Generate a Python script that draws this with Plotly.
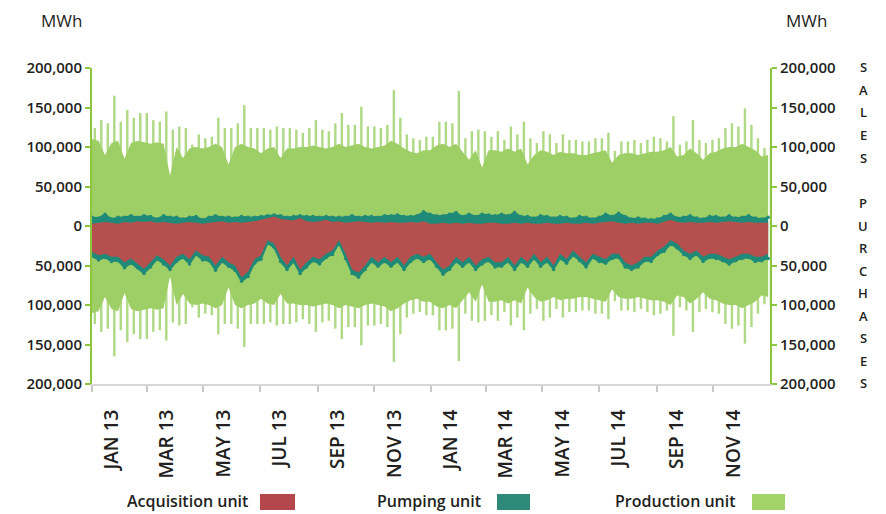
import pandas as pd
import plotly.graph_objects as go

# ---------------- data (thousand MWh, weekly, 2013-2014) ----------------
week_start = pd.date_range("2013-01-01", periods=105, freq="7D")

# production unit: peak hourly value in the week (spike tops) and the dense level
prod_peak = [124, 134, 130, 165, 132, 147, 137, 143, 143, 134,
             132, 145, 122, 126, 124, 103, 116, 111, 113, 137,
             124, 124, 130, 153, 124, 124,
             124, 122, 126, 124, 124, 122, 118, 124, 134, 122,
             120, 130, 143, 128, 128, 151, 126, 126, 124, 128,
             172, 137, 116, 111, 109, 113,
             113, 132, 132, 130, 171, 111, 120, 122, 120, 113,
             120, 109, 126, 116, 132, 111, 105, 120, 116, 105,
             116, 109, 109, 107, 107, 111,
             111, 118, 95, 107, 107, 109, 105, 109, 113, 111,
             107, 139, 103, 107, 134, 109, 105, 109, 111, 124,
             130, 126, 149, 128, 111, 99, 100]
prod_level = [110, 108, 90, 105, 108, 85, 105, 108, 106, 104,
              106, 104, 64, 100, 86, 98, 100, 98, 100, 104,
              100, 78, 100, 104, 100, 98,
              92, 98, 100, 86, 98, 98, 100, 100, 102, 100,
              98, 100, 104, 100, 102, 104, 100, 98, 100, 102,
              108, 104, 98, 94, 92, 96,
              96, 102, 104, 100, 104, 94, 84, 96, 74, 96,
              96, 94, 98, 94, 98, 78, 90, 96, 94, 90,
              94, 92, 92, 90, 90, 92,
              94, 96, 80, 90, 92, 92, 90, 92, 94, 94,
              96, 100, 88, 90, 98, 92, 84, 92, 94, 98,
              100, 100, 104, 100, 96, 88, 90]

# acquisition unit (sales side / purchases side)
acq_sales = [3, 4, 5, 4, 3, 5, 4, 6, 5, 6, 4, 5, 4, 3, 4, 5, 4, 3, 4, 5, 6, 4, 5, 4, 5, 6,
             8, 10, 12, 9, 8, 7, 10, 6, 5, 6, 8, 5, 6, 4, 5, 6, 5, 4, 5, 4, 5, 4, 4, 5, 4, 6,
             3, 3, 4, 3, 4, 3, 4, 3, 3, 4, 4, 3, 3, 4, 3, 4, 3, 3, 4, 3, 3, 4, 3, 3, 4, 3,
             4, 5, 6, 4, 3, 4, 3, 4, 4, 3, 6, 8, 5, 4, 5, 4, 4, 5, 4, 5, 6, 5, 4, 5, 4, 4, 4]
acq_purch = [33, 37, 35, 39, 39, 46, 41, 48, 54, 46, 37, 42, 50, 39, 35, 42, 31, 37, 39, 50,
             39, 46, 50, 65, 58, 42,
             37, 18, 22, 39, 50, 39, 55, 46, 39, 42, 35, 31, 18, 35, 55, 59, 50, 39, 46, 39,
             46, 39, 50, 39, 35, 39,
             35, 46, 55, 50, 39, 46, 39, 50, 42, 39, 46, 46, 39, 50, 39, 46, 35, 46, 39, 50,
             35, 42, 31, 39, 46, 35,
             39, 42, 35, 35, 46, 50, 46, 39, 39, 31, 26, 18, 22, 31, 35, 31, 39, 35, 35, 39,
             42, 39, 35, 35, 39, 39, 35]

# pumping unit (stacked beyond the acquisition unit)
pump_sales = [8, 6, 10, 5, 8, 6, 9, 5, 8, 6, 5, 8, 7, 8, 5, 6, 8, 5, 7, 8, 5, 7, 5, 8, 6, 5,
              4, 3, 2, 4, 3, 5, 3, 6, 7, 5, 4, 6, 5, 7, 8, 5, 7, 8, 6, 9, 8, 10, 8, 7, 9, 12,
              12, 10, 9, 12, 13, 9, 11, 9, 12, 10, 9, 12, 10, 13, 9, 8, 7, 10, 8, 7, 9, 7, 6, 9, 7, 6,
              7, 10, 6, 12, 9, 5, 7, 5, 4, 6, 6, 7, 5, 7, 8, 6, 5, 7, 8, 5, 7, 5, 7, 8, 6, 5, 7]
pump_purch = [5, 6, 5, 6, 5, 7, 6, 5, 6, 6, 5, 6, 5, 6, 5, 6, 5, 6, 5, 6, 6, 5, 6, 5, 6, 5,
              5, 4, 5, 6, 5, 6, 5, 6, 5, 6, 5, 5, 4, 6, 5, 6, 5, 6, 5, 6, 5, 6, 5, 6, 5, 6,
              6, 5, 6, 5, 6, 5, 6, 5, 6, 5, 6, 5, 6, 5, 6, 5, 6, 5, 6, 5, 6, 5, 6, 5, 6, 5,
              6, 5, 6, 5, 6, 5, 6, 5, 6, 5, 6, 5, 6, 5, 6, 5, 6, 5, 6, 5, 6, 5, 6, 5, 6, 5, 6]

# isolated hourly extremes
acq_spike_dates = ["2013-03-28", "2014-09-16", "2014-07-10", "2014-09-16", "2014-10-15",
                   "2014-11-11", "2014-12-02", "2014-12-29", "2013-06-14"]
acq_spike_vals = [36, 42, -80, -66, -72, -62, -69, -52, -72]
pump_spike_dates = ["2013-12-24", "2014-07-10", "2014-07-14"]
pump_spike_vals = [37, 30, 27]

tick_dates = ["2013-01-01", "2013-03-01", "2013-05-01", "2013-07-01", "2013-09-01", "2013-11-01",
              "2014-01-01", "2014-03-01", "2014-05-01", "2014-07-01", "2014-09-01", "2014-11-01"]
tick_labels = ["JAN 13", "MAR 13", "MAY 13", "JUL 13", "SEP 13", "NOV 13",
               "JAN 14", "MAR 14", "MAY 14", "JUL 14", "SEP 14", "NOV 14"]
y_ticks = [-200000, -150000, -100000, -50000, 0, 50000, 100000, 150000, 200000]
y_labels = ["200,000", "150,000", "100,000", "50,000", "0", "50,000", "100,000", "150,000", "200,000"]

# ---------------- styling ----------------
GREEN = "#9ecf66"
GREEN_SPIKE = "#b0d986"
RED = "#b5504e"
TEAL = "#1f8a78"
AXIS_GREEN = "#8cc63f"
TXT = "#231f20"
FONT = "Open Sans"

K = 1000
DAY = 86400000
mid = week_start + pd.Timedelta(days=3)

def scale(v, s=1):
    return [s * x * K for x in v]

fig = go.Figure()

# production spikes (behind the dense level)
for s in (1, -1):
    fig.add_trace(go.Bar(x=mid, y=scale(prod_peak, s), width=2.6 * DAY,
                         marker=dict(color=GREEN_SPIKE, line=dict(width=0)),
                         hoverinfo="skip", showlegend=False))
for s in (1, -1):
    fig.add_trace(go.Scatter(x=week_start, y=scale(prod_level, s), mode="lines",
                             line=dict(width=0, color=GREEN), fill="tozeroy",
                             fillcolor=GREEN, hoverinfo="skip", showlegend=False))

# pumping unit (total = acquisition + pumping)
tot_sales = [a + p for a, p in zip(acq_sales, pump_sales)]
tot_purch = [a + p for a, p in zip(acq_purch, pump_purch)]
fig.add_trace(go.Scatter(x=week_start, y=scale(tot_sales), mode="lines+markers",
                         line=dict(width=1.5, color=TEAL), marker=dict(size=3.5, color=TEAL),
                         fill="tozeroy", fillcolor=TEAL,
                         hoverinfo="skip", showlegend=False))
fig.add_trace(go.Scatter(x=week_start, y=scale(tot_purch, -1), mode="lines+markers",
                         line=dict(width=1.5, color=TEAL), marker=dict(size=3.5, color=TEAL),
                         fill="tozeroy", fillcolor=TEAL,
                         hoverinfo="skip", showlegend=False))
fig.add_trace(go.Bar(x=pd.to_datetime(pump_spike_dates), y=scale(pump_spike_vals), width=1.6 * DAY,
                     marker=dict(color=TEAL, line=dict(width=0)), hoverinfo="skip", showlegend=False))

# acquisition unit
fig.add_trace(go.Scatter(x=week_start, y=scale(acq_sales), mode="lines",
                         line=dict(width=0, color=RED), fill="tozeroy", fillcolor=RED,
                         hoverinfo="skip", showlegend=False))
fig.add_trace(go.Scatter(x=week_start, y=scale(acq_purch, -1), mode="lines",
                         line=dict(width=0, color=RED), fill="tozeroy", fillcolor=RED,
                         hoverinfo="skip", showlegend=False))
fig.add_trace(go.Bar(x=pd.to_datetime(acq_spike_dates), y=scale(acq_spike_vals), width=1.6 * DAY,
                     marker=dict(color=RED, line=dict(width=0)), hoverinfo="skip", showlegend=False))

# ---------------- layout ----------------
L, R, T, B = 92, 116, 68, 130
W, H = 886, 514
PW, PH = W - L - R, H - T - B

def px(x):
    return (x - L) / PW

def py(y):
    return (H - B - y) / PH

yaxis_common = dict(range=[-200000, 200000], tickmode="array", tickvals=y_ticks, ticktext=y_labels,
                    showline=True, linecolor=AXIS_GREEN, linewidth=2, ticks="outside",
                    ticklen=5, tickwidth=2, tickcolor=AXIS_GREEN, showgrid=False,
                    tickfont=dict(family=FONT, size=15, color=TXT, weight=600),
                    fixedrange=True)

fig.update_layout(
    width=W, height=H, autosize=False,
    margin=dict(l=L, r=R, t=T, b=B, pad=0),
    paper_bgcolor="white", plot_bgcolor="white",
    barmode="overlay", showlegend=False,
    xaxis=dict(type="date", range=["2013-01-01", "2015-01-01"], tickmode="array",
               tickvals=tick_dates, ticktext=tick_labels, tickangle=-90,
               ticks="outside", ticklen=6, tickwidth=1.5, tickcolor="#c8c8c8",
               showline=True, linecolor="#d6d6d6", linewidth=2, showgrid=False,
               zeroline=False, ticklabelshift=20, ticklabelstandoff=10,
               tickfont=dict(family=FONT, size=19, color=TXT, weight=600),
               fixedrange=True),
    yaxis=dict(**yaxis_common, zeroline=True, zerolinecolor="rgba(255,255,255,0.35)",
               zerolinewidth=1, layer="above traces"),
    yaxis2=dict(**yaxis_common, overlaying="y", side="right", zeroline=False,
                anchor="x"),
)

annotations = [
    dict(text="MWh", x=px(61), y=py(20)),
    dict(text="MWh", x=px(806), y=py(20)),
]
for a in annotations:
    a.update(xref="paper", yref="paper", showarrow=False, xanchor="center", yanchor="middle",
             font=dict(family=FONT, size=17, color=TXT))

for i, ch in enumerate("SALES"):
    annotations.append(dict(text=ch, x=px(863), y=py(67 + 22.7 * i)))
for i, ch in enumerate("PURCHASES"):
    annotations.append(dict(text=ch, x=px(863), y=py(203 + 22.5 * i)))
for a in annotations[2:]:
    a.update(xref="paper", yref="paper", showarrow=False, xanchor="center", yanchor="middle",
             font=dict(family=FONT, size=13, color=TXT, weight=600))

legend_items = [("Acquisition unit", "#b4474b", 250, 260, 295),
                ("Pumping unit", "#2e8b7a", 483, 497, 530),
                ("Production unit", "#a2d46a", 738, 752, 785)]
shapes = []
for label, col, tx, sx0, sx1 in legend_items:
    annotations.append(dict(text=label, x=px(tx), y=py(501), xref="paper", yref="paper",
                            showarrow=False, xanchor="right", yanchor="middle",
                            font=dict(family=FONT, size=16, color=TXT, weight=600)))
    shapes.append(dict(type="rect", xref="paper", yref="paper", x0=px(sx0), x1=px(sx1),
                       y0=py(510), y1=py(494), fillcolor=col, line=dict(width=0)))

fig.update_layout(annotations=annotations, shapes=shapes)

# make yaxis2 visible
fig.add_trace(go.Scatter(x=[None], y=[None], yaxis="y2", showlegend=False, hoverinfo="skip"))

fig.write_html("out.html", config={"displayModeBar": False},
               post_script="document.body.style.margin='0px';")
